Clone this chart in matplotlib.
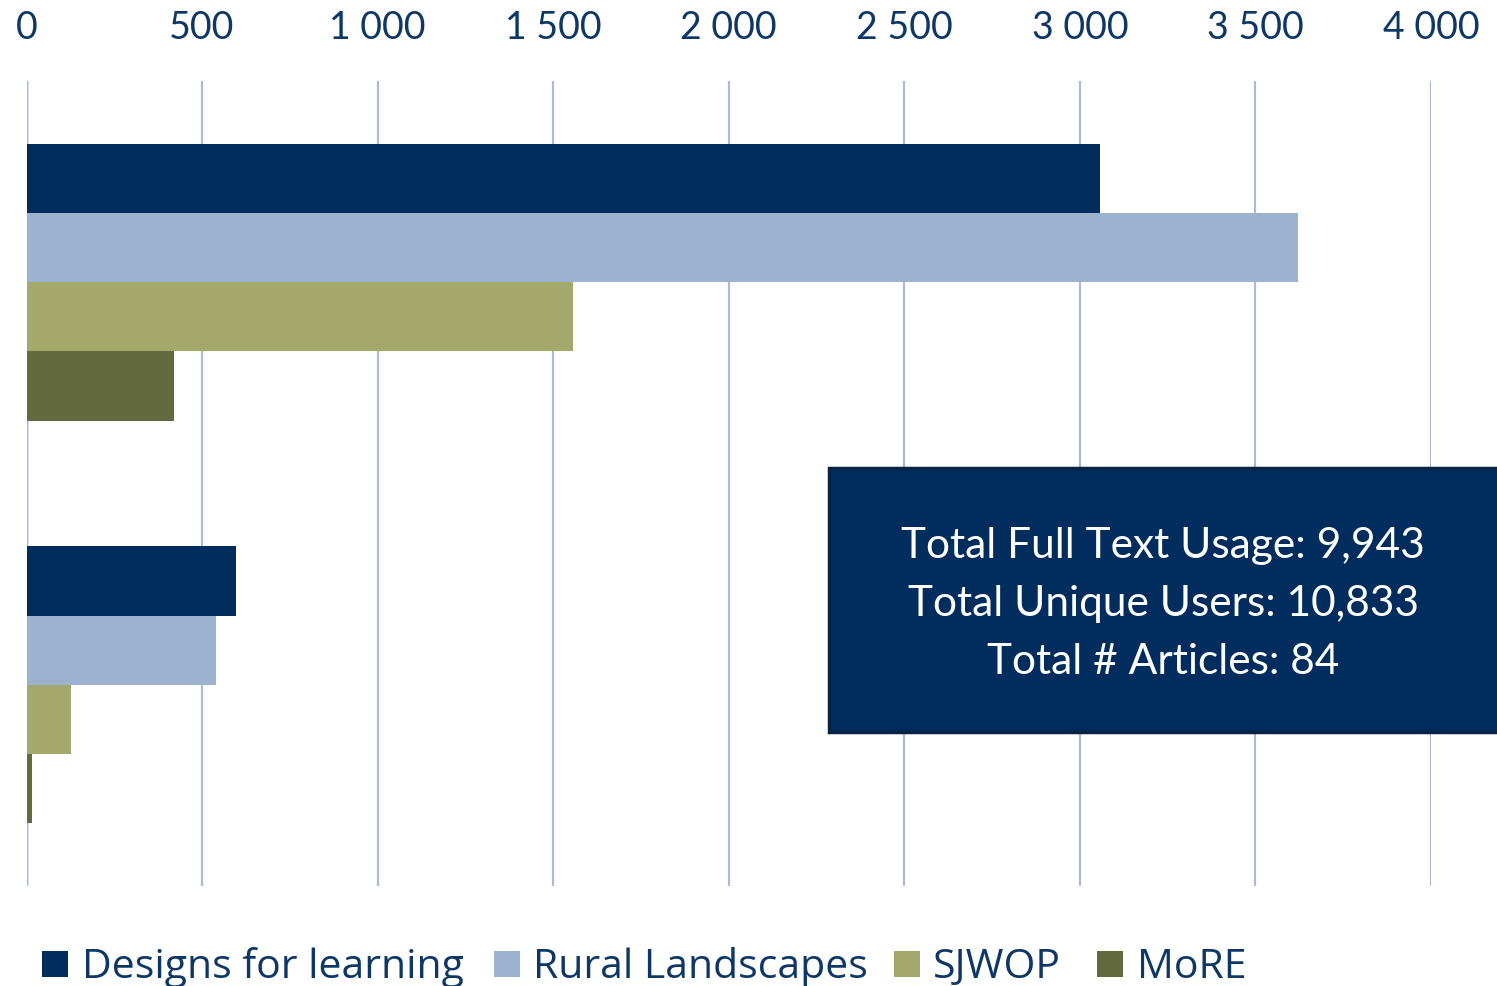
import matplotlib
matplotlib.use("Agg")
import matplotlib.pyplot as plt
from matplotlib.patches import Rectangle
from matplotlib.ticker import FuncFormatter, MultipleLocator
import numpy as np

plt.rcParams['font.family'] = ['Lato', 'DejaVu Sans']

categories = ["Group 1", "Group 2"]
series = ["Designs for learning", "Rural Landscapes", "SJWOP", "MoRE"]
designs = [3058, 598]
rural = [3621, 541]
sjwop = [1557, 126]
more = [419, 16]
values = [designs, rural, sjwop, more]
colors = ["#002D5E", "#9DB2CF", "#A4A86A", "#636A3D"]
summary_lines = ["Total Full Text Usage: 9,943",
                 "Total Unique Users: 10,833",
                 "Total # Articles: 84"]

W, H = 1497, 987
fig = plt.figure(figsize=(W / 100, H / 100), dpi=100)
ax = fig.add_axes([26.5 / W, 1 - 887 / H, (1431 - 26.5) / W, (887 - 82) / H])

navy_text = "#0E3765"
h = 0.172
y = np.arange(len(categories))
for i, (vals, c) in enumerate(zip(values, colors)):
    ax.barh(y + (i - 1.5) * h, vals, height=h, color=c, edgecolor='none',
            zorder=3, label=series[i])

ax.set_xlim(0, 4000)
ax.set_ylim(1.5, -0.5)
ax.xaxis.set_major_locator(MultipleLocator(500))
ax.xaxis.set_major_formatter(FuncFormatter(lambda v, p: f"{int(v):,}".replace(",", " ")))
ax.xaxis.tick_top()
ax.tick_params(axis='x', length=0, pad=26, labelsize=27, labelcolor=navy_text)
ax.set_yticks([])
ax.grid(axis='x', color="#A9BCD8", linewidth=1.6, zorder=0)
for s in ax.spines.values():
    s.set_visible(False)
ax.axvline(0, color="#C5DCF3", linewidth=1.8, zorder=1)

# Summary box
fig.patches.append(Rectangle((829 / W, 1 - 733 / H), (W - 829 + 10) / W, (733 - 469) / H,
                             transform=fig.transFigure, facecolor="#002D5E",
                             edgecolor="#0A2342", linewidth=2.5, zorder=5))
for k, line in enumerate(summary_lines):
    fig.text(1163 / W, 1 - (558 + 58 * k) / H, line, color="white", fontsize=30.5,
             ha='center', va='baseline', zorder=6)

# Legend (manual)
marker_x = [42, 494, 894, 1097]
text_x = [82, 533, 933, 1137]
for mx, tx, c, lab in zip(marker_x, text_x, colors, series):
    fig.patches.append(Rectangle((mx / W, 1 - 978 / H), 26 / W, 26 / H,
                                 transform=fig.transFigure, facecolor=c, edgecolor='none'))
    fig.text(tx / W, 1 - 978 / H, lab, color=navy_text, fontsize=29.5,
             family=['Open Sans', 'DejaVu Sans'], ha='left', va='baseline')

fig.savefig("out.png", dpi=100)
